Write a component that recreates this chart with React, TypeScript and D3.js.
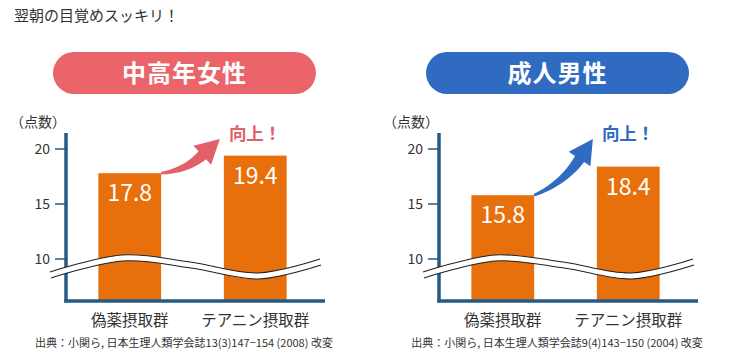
import React from "react";
import * as d3 from "d3";

const headline = "翌朝の目覚めスッキリ！";
const categories = ["偽薬摂取群", "テアニン摂取群"];
const womenScores = [17.8, 19.4];
const menScores = [15.8, 18.4];
const yTicks = [10, 15, 20];
const panelTitles = ["中高年女性", "成人男性"];
const sourceNotes = [
  "出典：小関ら, 日本生理人類学会誌13(3)147−154 (2008) 改変",
  "出典：小関ら, 日本生理人類学会誌9(4)143−150 (2004) 改変",
];

const FONT = "'Noto Sans CJK JP', 'Noto Sans', sans-serif";
const ORANGE = "#e8700c";
const AXIS = "#245a86";
const TEXT = "#333333";

// curved tapered arrow from s to tip t
function arrowPath(s: [number, number], t: [number, number]) {
  const chord = Math.atan2(t[1] - s[1], t[0] - s[0]);
  const th = chord - 0.22;
  const headLen = 24;
  const n: [number, number] = [t[0] - headLen * Math.cos(th), t[1] - headLen * Math.sin(th)];
  const k = Math.hypot(n[0] - s[0], n[1] - s[1]) * 0.5;
  const c: [number, number] = [n[0] - k * Math.cos(th), n[1] - k * Math.sin(th)];
  const top: [number, number][] = [];
  const bot: [number, number][] = [];
  const steps = 16;
  for (let i = 0; i <= steps; i++) {
    const u = i / steps;
    const px = (1 - u) * (1 - u) * s[0] + 2 * (1 - u) * u * c[0] + u * u * n[0];
    const py = (1 - u) * (1 - u) * s[1] + 2 * (1 - u) * u * c[1] + u * u * n[1];
    const tx = 2 * (1 - u) * (c[0] - s[0]) + 2 * u * (n[0] - c[0]);
    const ty = 2 * (1 - u) * (c[1] - s[1]) + 2 * u * (n[1] - c[1]);
    const len = Math.hypot(tx, ty);
    const nx = -ty / len;
    const ny = tx / len;
    const w = 1.3 + 4.2 * u;
    top.push([px - nx * w, py - ny * w]);
    bot.push([px + nx * w, py + ny * w]);
  }
  const hw = 13;
  const nx = -Math.sin(th);
  const ny = Math.cos(th);
  const p = d3.path();
  p.moveTo(top[0][0], top[0][1]);
  top.forEach((q) => p.lineTo(q[0], q[1]));
  p.lineTo(n[0] - nx * hw, n[1] - ny * hw);
  p.lineTo(t[0], t[1]);
  p.lineTo(n[0] + nx * hw, n[1] + ny * hw);
  bot.slice().reverse().forEach((q) => p.lineTo(q[0], q[1]));
  p.closePath();
  return p.toString();
}

// axis-break wave (upper edge), drawn as a white band with two lines
const wavePts: [number, number][] = [
  [50, 272],
  [122, 255],
  [190, 262],
  [258, 273],
  [320, 259],
];
const BAND = 6;

type PanelProps = {
  dx: number;
  title: string;
  pill: string;
  accent: string;
  scores: number[];
  source: string;
};

function Panel({ dx, title, pill, accent, scores, source }: PanelProps) {
  const x = d3
    .scaleBand<string>()
    .domain(categories)
    .range([67, 318])
    .paddingInner(0.5)
    .paddingOuter(0.25);
  const y = d3.scaleLinear().domain([10, 20]).range([259, 149]);
  const base = 300;
  const bw = x.bandwidth();

  const waveLine = d3
    .line<[number, number]>()
    .x((d) => d[0])
    .y((d) => d[1])
    .curve(d3.curveCatmullRom);
  const waveLow = d3
    .line<[number, number]>()
    .x((d) => d[0] + 1)
    .y((d) => d[1] + BAND)
    .curve(d3.curveCatmullRom);
  const waveBand = d3
    .area<[number, number]>()
    .x((d) => d[0])
    .y0((d) => d[1])
    .y1((d) => d[1] + BAND)
    .curve(d3.curveCatmullRom);

  const x0 = x(categories[0])!;
  const x1 = x(categories[1])!;

  return (
    <g transform={`translate(${dx},0)`}>
      <rect x={53} y={52} width={263} height={42} rx={21} fill={pill} />
      <text
        x={184.5}
        y={82}
        textAnchor="middle"
        fontSize={24}
        fontWeight="bold"
        fill="#fff"
        letterSpacing={1}
      >
        {title}
      </text>

      <text x={10} y={127} fontSize={14} fill={TEXT}>
        （点数）
      </text>

      {yTicks.map((t) => (
        <g key={t}>
          <line x1={55} x2={65} y1={y(t)} y2={y(t)} stroke={AXIS} strokeWidth={1.5} />
          <text x={50} y={y(t) + 5} textAnchor="end" fontSize={14} fill={TEXT}>
            {t}
          </text>
        </g>
      ))}

      {categories.map((c, i) => (
        <rect key={c} x={x(c)} y={y(scores[i])} width={bw} height={base - y(scores[i])} fill={ORANGE} />
      ))}

      <line x1={66} x2={66} y1={133} y2={302.5} stroke={AXIS} strokeWidth={3.5} />
      <line x1={64.25} x2={325} y1={301} y2={301} stroke={AXIS} strokeWidth={3.5} />

      <path d={waveBand(wavePts)!} fill="#fff" />
      <path d={waveLine(wavePts)!} fill="none" stroke="#222" strokeWidth={1.1} />
      <path d={waveLow(wavePts)!} fill="none" stroke="#222" strokeWidth={1.1} />

      {categories.map((c, i) => (
        <text
          key={c}
          x={x(c)! + bw / 2}
          y={y(scores[i]) + 28}
          textAnchor="middle"
          fontSize={23}
          fill="#fff"
        >
          {scores[i].toFixed(1)}
        </text>
      ))}

      <path d={arrowPath([x0 + bw, y(scores[0])], [x1 - 4, y(20) - 10])} fill={accent} />
      <text x={x1 + 5} y={y(20) - 9} fontSize={17.5} fontWeight="bold" fill={accent}>
        向上！
      </text>

      {categories.map((c) => (
        <text key={c} x={x(c)! + bw / 2} y={326} textAnchor="middle" fontSize={15.5} fill={TEXT}>
          {c}
        </text>
      ))}

      <text x={184} y={347} textAnchor="middle" fontSize={11} fill={TEXT}>
        {source}
      </text>
    </g>
  );
}

export default function App() {
  return (
    <div style={{ position: "absolute", left: 0, top: 0 }}>
      <svg width={731} height={364} fontFamily={FONT} style={{ display: "block", background: "#fff" }}>
        <text x={14} y={21} fontSize={15} fill={TEXT}>
          {headline}
        </text>
        <Panel
          dx={0}
          title={panelTitles[0]}
          pill="#ea6469"
          accent="#e2606a"
          scores={womenScores}
          source={sourceNotes[0]}
        />
        <Panel
          dx={373}
          title={panelTitles[1]}
          pill="#2f6cc1"
          accent="#2f6cc1"
          scores={menScores}
          source={sourceNotes[1]}
        />
      </svg>
    </div>
  );
}
